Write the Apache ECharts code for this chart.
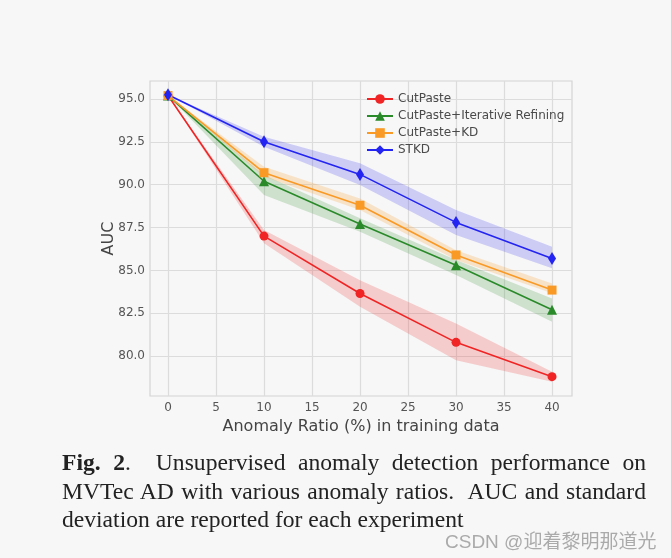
<!DOCTYPE html>
<html>
<head>
<meta charset="utf-8">
<script src="https://cdn.jsdelivr.net/npm/echarts@6/dist/echarts.min.js"></script>
<style>
  html, body { margin: 0; padding: 0; background: #f7f7f7; }
  #wrap { position: relative; width: 671px; height: 558px; background: #f7f7f7; overflow: hidden; }
  #chart { position: absolute; left: 0; top: 0; width: 671px; height: 558px; }
  .cap { position: absolute; left: 62px; width: 584px; font-family: "Liberation Serif", "DejaVu Serif", serif;
         font-size: 23.6px; color: #222; white-space: nowrap; line-height: 26px; }
  .just { text-align: justify; text-align-last: justify; white-space: normal; }
  #wm { position: absolute; left: 445px; top: 526px; font-family: "Liberation Sans", "Noto Sans CJK SC", sans-serif; font-size: 19px; color: #aaaaaa; white-space: nowrap; }
  #wm span { font-family: "Noto Sans CJK SC", sans-serif; }
</style>
</head>
<body>
<div id="wrap">
  <div id="chart"></div>
  <div class="cap just" style="top:449px;"><b>Fig. 2</b>.&nbsp; Unsupervised anomaly detection performance on</div>
  <div class="cap just" style="top:478px;">MVTec AD with various anomaly ratios.&nbsp; AUC and standard</div>
  <div class="cap" style="top:506px;">deviation are reported for each experiment</div>
  <div id="wm">CSDN @<span>迎着黎明那道光</span></div>
</div>
<script>
const ratios = [0, 10, 20, 30, 40];
const xTicks = [0, 5, 10, 15, 20, 25, 30, 35, 40];
const yTicks = [80, 82.5, 85, 87.5, 90, 92.5, 95];

const cutPaste      = [95.2, 87.0, 83.65, 80.8, 78.8];
const cutPasteLo    = [95.2, 86.58, 82.88, 79.76, 78.5];
const cutPasteHi    = [95.2, 87.35, 84.43, 81.9, 79.08];

const iterRefining   = [95.2, 90.2, 87.7, 85.3, 82.7];
const iterRefiningLo = [95.2, 89.4, 87.25, 84.73, 82.0];
const iterRefiningHi = [95.2, 90.56, 88.04, 85.6, 83.36];

const cutPasteKD    = [95.2, 90.7, 88.8, 85.9, 83.85];
const cutPasteKDLo  = [95.2, 90.46, 88.52, 85.6, 83.66];
const cutPasteKDHi  = [95.2, 91.05, 89.2, 86.18, 84.24];

const stkd          = [95.25, 92.5, 90.6, 87.8, 85.7];
const stkdLo        = [95.25, 92.22, 89.98, 87.06, 85.12];
const stkdHi        = [95.25, 92.8, 91.25, 88.52, 86.38];

const names = ['CutPaste', 'CutPaste+Iterative Refining', 'CutPaste+KD', 'STKD'];
const colors = ['#f02424', '#2a8a2a', '#f99a26', '#2424f2'];
const bandColors = ['rgba(240,36,36,0.2)', 'rgba(42,138,42,0.2)', 'rgba(249,154,38,0.22)', 'rgba(36,36,242,0.2)'];
const symbols = ['circle', 'triangle', 'rect', 'path://M0,-10 L6,0 L0,10 L-6,0 Z'];
const symbolSizes = [9, 10, 9, [8, 13]];

const means = [cutPaste, iterRefining, cutPasteKD, stkd];
const los = [cutPasteLo, iterRefiningLo, cutPasteKDLo, stkdLo];
const his = [cutPasteHi, iterRefiningHi, cutPasteKDHi, stkdHi];

function band(i) {
  const lo = los[i], hi = his[i];
  return {
    type: 'custom', name: names[i] + ' band', silent: true, z: 1,
    data: ratios.map((x, k) => [x, lo[k], hi[k]]),
    renderItem: function (params, api) {
      if (params.dataIndex !== 0) return null;
      const pts = [];
      for (let k = 0; k < ratios.length; k++) pts.push(api.coord([ratios[k], hi[k]]));
      for (let k = ratios.length - 1; k >= 0; k--) pts.push(api.coord([ratios[k], lo[k]]));
      return { type: 'polygon', shape: { points: pts }, style: { fill: bandColors[i], stroke: null } };
    }
  };
}

function line(i) {
  return {
    type: 'line', name: names[i], z: 3,
    data: ratios.map((x, k) => [x, means[i][k]]),
    symbol: symbols[i], symbolSize: symbolSizes[i], showSymbol: true,
    lineStyle: { color: colors[i], width: 1.6 },
    itemStyle: { color: colors[i] },
    emphasis: { disabled: true }
  };
}

const series = [];
for (let i = 0; i < 4; i++) series.push(band(i));
for (let i = 0; i < 4; i++) series.push(line(i));

const chart = echarts.init(document.getElementById('chart'), null, { renderer: 'canvas' });
chart.setOption({
  animation: false,
  backgroundColor: '#f7f7f7',
  textStyle: { fontFamily: 'DejaVu Sans' },
  grid: { left: 150, right: 99, top: 81, bottom: 162, show: true, borderColor: '#d4d4d4', borderWidth: 1.2, backgroundColor: '#f7f7f7' },
  legend: {
    data: names, orient: 'vertical', left: 361, top: 88, itemGap: 5, itemWidth: 26, itemHeight: 12,
    textStyle: { fontFamily: 'DejaVu Sans', fontSize: 12, color: '#4a4a4a' }
  },
  xAxis: {
    type: 'value', min: -1.875, max: 42.08,
    name: 'Anomaly Ratio (%) in training data', nameLocation: 'middle', nameGap: 18,
    nameTextStyle: { fontFamily: 'DejaVu Sans', fontSize: 16, color: '#444' },
    axisLine: { show: false },
    axisTick: { show: false, customValues: xTicks },
    axisLabel: { customValues: xTicks, fontSize: 12, color: '#555', margin: 6, fontFamily: 'DejaVu Sans' },
    splitLine: { show: true, lineStyle: { color: '#dcdcdc', width: 1.2 } }
  },
  yAxis: {
    type: 'value', min: 77.67, max: 96.05,
    name: 'AUC', nameLocation: 'middle', nameGap: 33, nameMoveOverlap: false,
    nameTextStyle: { fontFamily: 'DejaVu Sans', fontSize: 16, color: '#444' },
    axisLine: { show: false },
    axisTick: { show: false, customValues: yTicks },
    axisLabel: { customValues: yTicks, fontSize: 12, color: '#555', margin: 5, fontFamily: 'DejaVu Sans',
                 formatter: v => Number(v).toFixed(1) },
    splitLine: { show: true, lineStyle: { color: '#dcdcdc', width: 1.2 } }
  },
  series: series
});
</script>
</body>
</html>
